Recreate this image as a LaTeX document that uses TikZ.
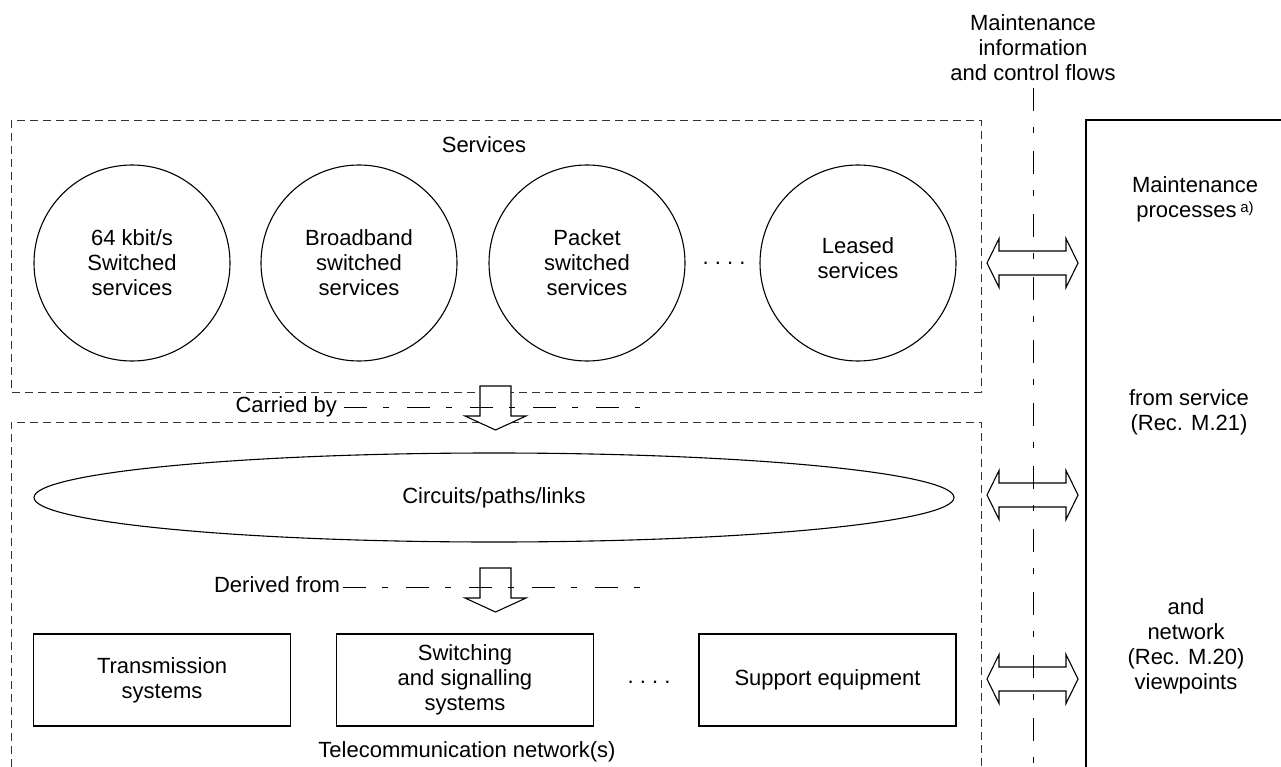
\documentclass[tikz,border=0pt]{standalone}
\usepackage{fontspec}
\setmainfont{Liberation Sans}
\usetikzlibrary{shapes.geometric}

\tikzset{
  txt/.style={font=\fontsize{22}{25}\selectfont, inner sep=0pt, outer sep=0pt, align=center},
  arealine/.style={dash pattern=on 8pt off 5pt, line width=0.9pt, black!80},
  flowline/.style={dash pattern=on 23pt off 16pt on 6pt off 18pt, line width=0.9pt},
  svc/.style={txt, circle, draw, line width=1.1pt, minimum size=196pt},
  eqbox/.style={txt, draw, line width=1.1pt, minimum width=257pt, minimum height=92pt},
  hollow/.style={draw, line width=1.1pt, line join=miter},
  downarrow/.pic={
    \draw[hollow, fill=white] (-15.5,-44) -- (15.5,-44) -- (15.5,-14) -- (30.5,-14)
      -- (0,0) -- (-30.5,-14) -- (-15.5,-14) -- cycle;
  },
  twoway/.pic={
    \draw[hollow] (-45.5,0) -- (-33.5,-24.5) -- (-33.5,-12) -- (33.5,-12)
      -- (33.5,-24.5) -- (45.5,0) -- (33.5,24.5) -- (33.5,12) -- (-33.5,12)
      -- (-33.5,24.5) -- cycle;
  },
}

\begin{document}
\begin{tikzpicture}[x=1pt, y=-1pt]
\useasboundingbox (0,0) rectangle (1281,767);

% service area and network area
\draw[arealine] (11,120) rectangle (981,392);
\draw[arealine] (11,767) -- (11,422) -- (981,422) -- (981,767);

% maintenance flow axis and processes frame
\coordinate (axtop) at (1033,88);
\coordinate (axbot) at (1033,767);
\draw[flowline] (axtop) -- (axbot);
\draw[line width=1.1pt] (1086,767) -- (1086,120) -- (1281,120);

\node[txt] (flows) at (1033,48) {Maintenance\\information\\and control flows};

% services
\node[txt] (services) at (484,145) {Services};
\node[svc] (s64) at (132,263) {64 kbit/s\\Switched\\services};
\node[svc] (sbb) at (359,263) {Broadband\\switched\\services};
\node[svc] (spk) at (587,263) {Packet\\switched\\services};
\node[txt] (sdots) at (724,263) {.\ .\ .\ .};
\node[svc] (sls) at (858,263) {};
\node[txt] (slstext) at ([yshift=5pt]sls.center) {Leased\\services};

% carried by
\pic at (495.5,430) {downarrow};
\node[txt, anchor=base east] (carried) at (337,412) {Carried by};
\coordinate (cbA) at (344,407);
\coordinate (cbB) at (640,407);
\draw[flowline] (cbA) -- (cbB);

% circuits
\node[txt, ellipse, draw, line width=1.1pt, minimum width=920pt, minimum height=89pt]
  (circ) at (494,497.5) {Circuits/paths/links};

% derived from
\pic at (495.5,612) {downarrow};
\node[txt, anchor=base east] (derived) at (340,592) {Derived from};
\coordinate (dfA) at (343,587);
\coordinate (dfB) at (640,587);
\draw[flowline] (dfA) -- (dfB);

% equipment
\node[eqbox] (trans) at (162,680) {Transmission\\systems};
\node[eqbox] (switch) at (465,680) {Switching\\and signalling\\systems};
\node[txt] (edots) at (649,682) {.\ .\ .\ .};
\node[eqbox] (support) at (827.5,680) {Support equipment};
\node[txt] (tnet) at (467,752) {Telecommunication network(s)};

% maintenance information exchanges
\pic at (1032.5,263) {twoway};
\pic at (1032.5,495) {twoway};
\pic at (1032.5,679) {twoway};

% maintenance processes
\node[txt] (mproc) at (1195,199) {Maintenance\\processes\,\raisebox{5pt}{\fontsize{15}{15}\selectfont a)}};
\node[txt] (mserv) at (1189,412) {from service\\(Rec. M.21)};
\node[txt] (mnet) at (1186,646) {and\\network\\(Rec. M.20)\\viewpoints};
\end{tikzpicture}
\end{document}
